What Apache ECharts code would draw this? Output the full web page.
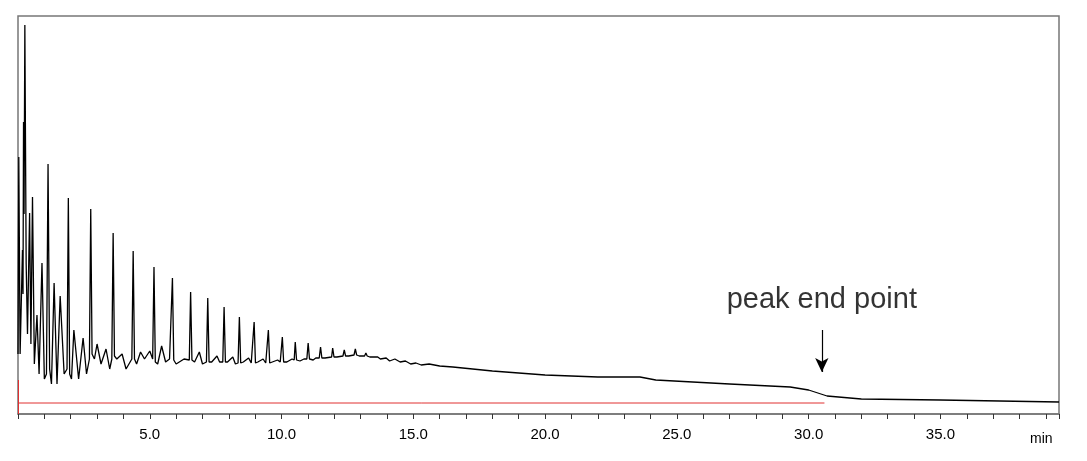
<!DOCTYPE html>
<html><head><meta charset="utf-8">
<script src="https://cdn.jsdelivr.net/npm/echarts@6/dist/echarts.min.js"></script>
<style>html,body{margin:0;padding:0;background:#fff}#c{width:1087px;height:461px}</style>
</head><body><div id="c"></div>
<script>
const traceTime = [0,0.03,0.08,0.14,0.17,0.19,0.21,0.23,0.26,0.31,0.36,0.44,0.49,0.55,0.62,0.72,0.8,0.91,1.0,1.08,1.14,1.2,1.27,1.37,1.48,1.6,1.75,1.86,1.91,1.96,2.03,2.12,2.3,2.47,2.6,2.71,2.76,2.81,2.9,3.0,3.15,3.34,3.48,3.56,3.61,3.66,3.75,3.95,4.1,4.32,4.37,4.42,4.5,4.65,4.8,5.0,5.11,5.16,5.21,5.3,5.45,5.6,5.75,5.81,5.86,5.91,6.0,6.3,6.5,6.55,6.6,6.7,6.88,7.0,7.15,7.2,7.25,7.35,7.55,7.65,7.77,7.82,7.87,7.95,8.15,8.25,8.35,8.4,8.45,8.55,8.75,8.85,8.91,8.96,9.01,9.1,9.3,9.4,9.45,9.5,9.55,9.65,9.85,9.95,9.99,10.03,10.08,10.2,10.4,10.48,10.52,10.57,10.7,10.85,10.96,11.01,11.06,11.2,11.3,11.43,11.48,11.53,11.65,11.9,11.94,11.99,12.1,12.33,12.38,12.43,12.55,12.75,12.8,12.85,12.95,13.15,13.2,13.25,13.35,13.55,13.6,13.65,13.75,13.97,14.1,14.3,14.5,14.7,14.9,15.1,15.3,15.6,16,16.5,18,20,22,23.6,24.2,27,29.3,30.0,30.7,32,35,39.5];
const traceSignal = [60,257,60,58,164,120,292,200,389,150,80,201,70,217,50,99,40,151,35,40,250,45,30,131,30,118,40,45,216,40,35,84,35,76,40,55,205,60,55,70,50,65,45,55,181,58,55,60,45,55,163,55,50,62,55,63,55,147,52,50,68,52,55,54,136,54,50,55,54,122,54,52,62,50,52,116,52,52,58,52,52,107,52,52,57,50,51,97,51,52,56,51,51,92,51,52,55,51,51,84,51,52,54,52,52,77,52,52,55,54,72,54,53,55,55,71,55,54,56,56,67,56,56,57,66,57,57,58,64,58,58,59,65,59,58,58,61,58,57,57,59,57,55,56,53,55,52,53,50,51,49,50,48,47,43,39,37,37,34,30,27,24,18,15,14,12];
const baselineTime = [0, 30.6];
const baselineSignal = [11, 11];
const endPointTime = 30.5;
const xTicks = [5,10,15,20,25,30,35];

const data = traceTime.map((t,i)=>[t,traceSignal[i]]);
const base = baselineTime.map((t,i)=>[t,baselineSignal[i]]);
const chart = echarts.init(document.getElementById('c'));
chart.setOption({
  animation:false,
  grid:{left:18,right:28,top:16,bottom:47,show:true,borderColor:'#777',borderWidth:1.5},
  xAxis:{type:'value',min:0,max:39.5,interval:1,
    axisLine:{show:true,onZero:false,lineStyle:{color:'#777',width:1.5}},
    axisTick:{show:true,length:5,lineStyle:{color:'#333'}},
    splitLine:{show:false},
    axisLabel:{color:'#000',fontFamily:'Arial, Liberation Sans',fontSize:15,margin:13,
      formatter:v=>xTicks.includes(v)?v.toFixed(1):''}},
  yAxis:{type:'value',min:0,max:398,show:false,splitLine:{show:false}},
  graphic:[{type:'text',left:1030,top:432,style:{text:'min',fontSize:14,fontFamily:'Arial, Liberation Sans',fill:'#000'}}],
  series:[
    {type:'line',data:data,showSymbol:false,lineStyle:{color:'#000',width:1.3},z:3},
    {type:'line',data:base,showSymbol:false,lineStyle:{color:'#e03030',width:1},z:2,
      markLine:{silent:true,symbol:['none','none'],lineStyle:{color:'#e03030',width:1,type:'solid'},label:{show:false},
        data:[[{coord:[0.02,0]},{coord:[0.02,34]}]]}},
    {type:'line',data:[],markLine:{silent:true,symbol:['none','arrow'],symbolSize:[10,14],
        lineStyle:{color:'#000',width:1.2,type:'solid'},label:{show:false},
        data:[[{coord:[endPointTime,84]},{coord:[endPointTime,42]}]]}},
    {type:'scatter',data:[[endPointTime,114]],symbolSize:0,
      label:{show:true,position:'inside',formatter:'peak end point',fontSize:29,color:'#000',textBorderWidth:0,fontFamily:'Arial, Liberation Sans'}}
  ]
});
</script></body></html>
